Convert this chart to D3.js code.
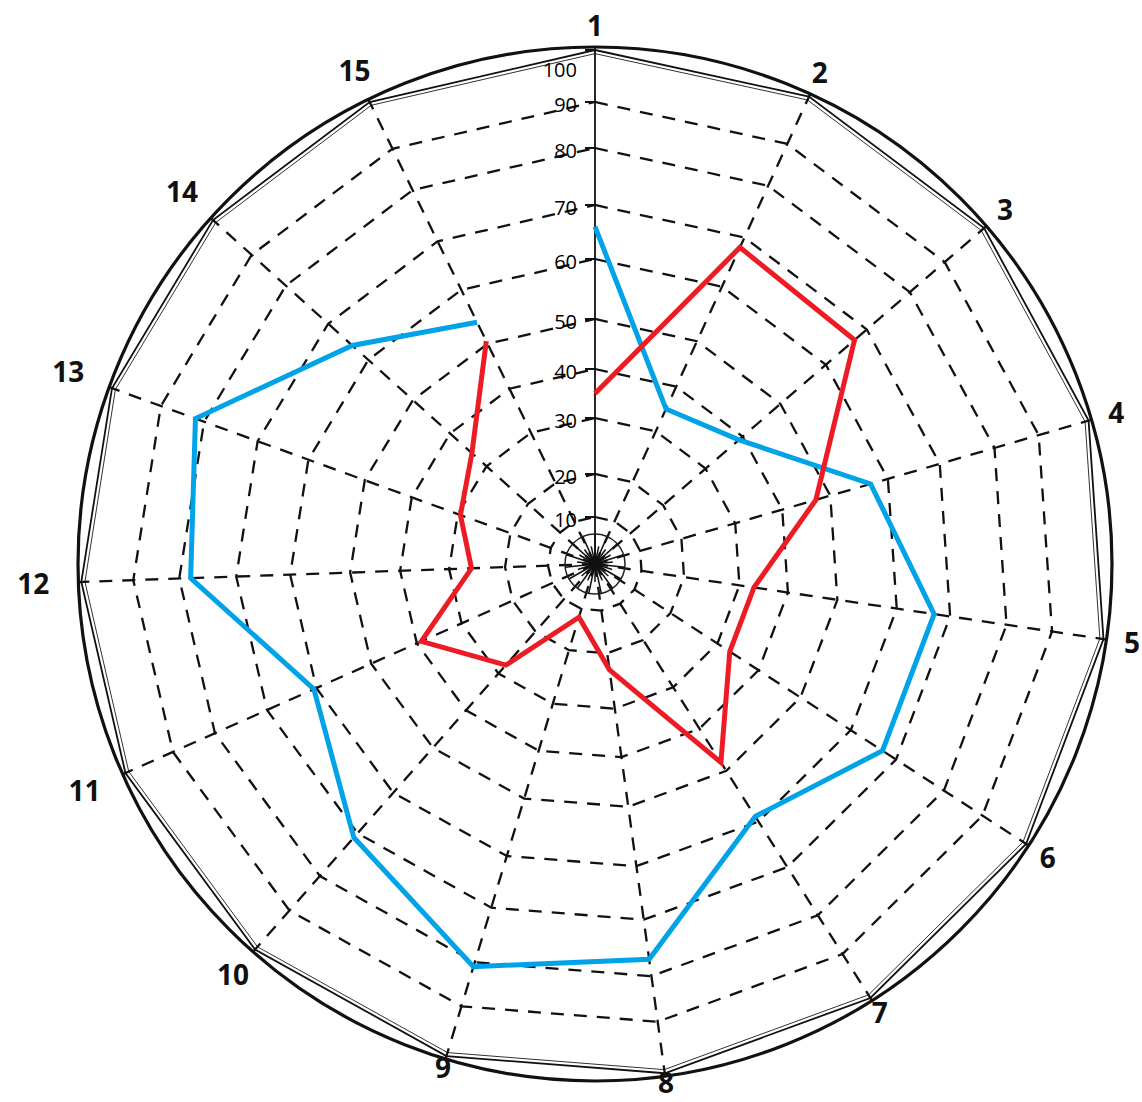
<!DOCTYPE html>
<html><head><meta charset="utf-8">
<script src="https://cdn.jsdelivr.net/npm/d3@7"></script>
<style>html,body{margin:0;background:#fff}</style></head>
<body>
<svg id="c" width="1142" height="1102"></svg>
<script>
const categories = ["1","2","3","4","5","6","7","8","9","10","11","12","13","14","15"];
const blueValues = [66, 35, 39, 57, 67, 67, 59, 77, 81, 71, 60.5, 78, 82, 64, 54];
const redValues  = [35, 68, 67, 47, 33, 33, 48, 23, 12, 28, 39, 26, 29.5, 34, 50.5];
const ringTicks  = [10, 20, 30, 40, 50, 60, 70, 80, 90, 100];
const ringLabels = ["10","20","30","40","50","60","70","80","90","100"];

const cx = 595, cy = 564;
// hand-drawn radial spacing of the reference rings
const r = d3.scaleLinear()
  .domain([0,10,20,30,40,50,60,70,80,90,100])
  .range([0,47,90,146,195,245,305,359,416,462,514]);
// hand-drawn angular spacing of the reference spokes (degrees, clockwise from top)
const angleDeg = d3.scaleLinear().domain([0,10,14,15]).range([0,246,334,360]);
const ang = i => angleDeg(i) * Math.PI / 180;

const svg = d3.select("#c");
const g = svg.append("g").attr("transform", `translate(${cx},${cy})`);

const ringLine = d3.lineRadial().angle((d,i) => ang(i)).radius(d => r(d)).curve(d3.curveLinearClosed);

// dashed rings
ringTicks.filter(v => v < 100).forEach(v => {
  g.append("path")
    .attr("d", ringLine(categories.map(() => v)))
    .attr("fill", "none").attr("stroke", "#111")
    .attr("stroke-width", 2.3).attr("stroke-dasharray", "13 10");
});

// outer polygon and circle
g.append("path")
  .attr("d", ringLine(categories.map(() => 100)))
  .attr("fill", "none").attr("stroke", "#111").attr("stroke-width", 1.8);
g.append("path")
  .attr("d", ringLine(categories.map(() => 99.3)))
  .attr("fill", "none").attr("stroke", "#333").attr("stroke-width", 1);
g.append("circle").attr("r", r(100) + 3)
  .attr("fill", "none").attr("stroke", "#111").attr("stroke-width", 3.2);

// spokes
categories.forEach((c, i) => {
  const a = ang(i);
  const R = r(100) + 3;
  g.append("line")
    .attr("x1", 0).attr("y1", 0)
    .attr("x2", R * Math.sin(a)).attr("y2", -R * Math.cos(a))
    .attr("stroke", "#111")
    .attr("stroke-width", i === 0 ? 1.8 : 2.3)
    .attr("stroke-dasharray", i === 0 ? null : "13 10");
});

// ticks on spoke 1
ringTicks.forEach(v => {
  g.append("line").attr("x1", -10).attr("x2", 0)
    .attr("y1", -r(v)).attr("y2", -r(v))
    .attr("stroke", "#111").attr("stroke-width", 2);
});

// center star
g.append("circle").attr("r", 30).attr("fill", "none").attr("stroke", "#222").attr("stroke-width", 1.5);
d3.range(30).forEach(k => {
  const a = k * Math.PI * 2 / 30;
  const L = k % 2 === 0 ? 30 : 18;
  g.append("line").attr("x1", 0).attr("y1", 0)
    .attr("x2", L * Math.sin(a)).attr("y2", -L * Math.cos(a))
    .attr("stroke", "#111").attr("stroke-width", 1.5);
});

// ring labels
ringTicks.forEach((v, i) => {
  g.append("text")
    .attr("x", -18).attr("y", -r(v) + (v === 100 ? 20 : 3))
    .attr("dy", "0.35em").attr("text-anchor", "end")
    .attr("font-family", "Open Sans, sans-serif").attr("font-size", 20)
    .attr("fill", "#000")
    .text(ringLabels[i]);
});

// category labels
categories.forEach((c, i) => {
  const a = ang(i);
  const s = Math.abs(Math.sin(a));
  const down = Math.max(0, -Math.cos(a));
  const R = 538 + (c.length === 2 ? 24 * s : 5 * s) - 15 * Math.pow(down, 3);
  g.append("text")
    .attr("x", R * Math.sin(a)).attr("y", -R * Math.cos(a))
    .attr("dy", "0.36em").attr("text-anchor", "middle")
    .attr("font-family", "Open Sans, sans-serif").attr("font-weight", 700)
    .attr("font-size", 28).attr("fill", "#111")
    .text(c);
});

// series
const seriesLine = d3.lineRadial().angle((d,i) => ang(i)).radius(d => r(d));
g.append("path").attr("d", seriesLine(blueValues))
  .attr("fill", "none").attr("stroke", "#00A2E8").attr("stroke-width", 5);
g.append("path").attr("d", seriesLine(redValues))
  .attr("fill", "none").attr("stroke", "#ED1C24").attr("stroke-width", 5);
</script>
</body></html>
